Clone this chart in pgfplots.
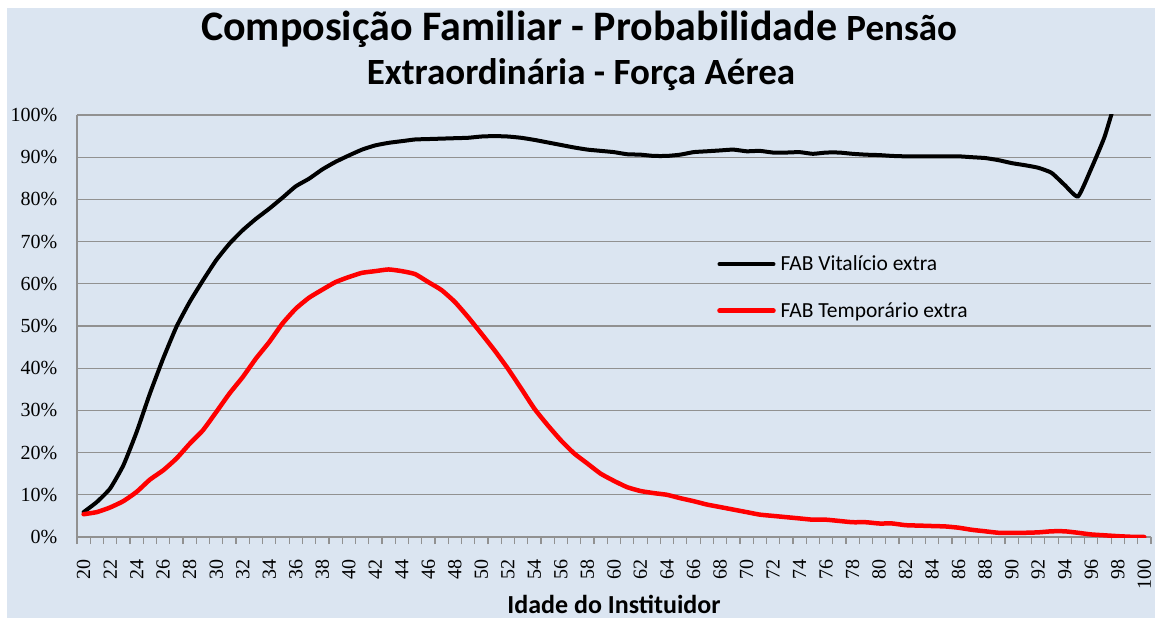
\documentclass[border=0pt]{standalone}
\usepackage{fontspec}
\setmainfont{Carlito}
\newfontfamily\tnr{Liberation Serif}
\usepackage{pgfplots}
\pgfplotsset{compat=1.18}
\usepackage{pgfplotstable}

\definecolor{bgblue}{RGB}{219,229,241}
\definecolor{gridgray}{RGB}{145,145,145}

% idade, vitalicio (%), temporario (%)
\pgfplotstableread{
age vit temp
20 5.9 5.4
21 8.3 5.9
22 11.5 7.0
23 17.0 8.5
24 24.9 10.7
25 34.0 13.6
26 42.3 15.8
27 49.8 18.6
28 55.7 22.1
29 60.8 25.3
30 65.6 29.6
31 69.5 34.0
32 72.7 37.9
33 75.4 42.3
34 77.8 46.2
35 80.4 50.6
36 83.1 54.1
37 84.9 56.7
38 87.1 58.6
39 88.9 60.4
40 90.4 61.6
41 91.8 62.6
42 92.8 63.0
43 93.4 63.4
44 93.8 63.0
45 94.2 62.3
46 94.3 60.4
47 94.4 58.5
48 94.5 55.7
49 94.6 52.1
50 94.9 48.2
51 95.0 44.2
52 94.9 39.9
53 94.6 35.2
54 94.1 30.4
55 93.5 26.5
56 92.9 22.9
57 92.3 19.8
58 91.8 17.4
59 91.5 15.0
60 91.2 13.3
61 90.7 11.8
62 90.6 10.9
63 90.3 10.4
64 90.3 10.0
65 90.6 9.2
66 91.2 8.5
67 91.4 7.7
68 91.6 7.1
69 91.8 6.5
70 91.4 5.9
71 91.5 5.3
72 91.1 5.0
73 91.1 4.7
74 91.2 4.4
75 90.8 4.1
76 91.1 4.1
77 91.1 3.8
78 90.8 3.5
79 90.6 3.5
80 90.5 3.2
81 90.3 3.2
82 90.2 2.8
83 90.2 2.7
84 90.2 2.6
85 90.2 2.5
86 90.2 2.2
87 90.0 1.7
88 89.8 1.35
89 89.3 1.0
90 88.6 1.0
91 88.1 1.0
92 87.5 1.1
93 86.3 1.35
94 83.4 1.35
95 80.7 1.0
96 87.3 0.6
97 94.8 0.4
98 105 0.2
99 112 0.05
100 120 0
}\datatab

\begin{document}
\begin{tikzpicture}[x=1pt,y=1pt]
\useasboundingbox (-77,-81) rectangle (1078,537);
\fill[white] (-77,-81) rectangle (1078,537);
\fill[bgblue] (-70,-81) rectangle (1078,529);

\node[font=\bfseries\fontsize{42}{48}\selectfont, anchor=base] at (502,496)
  {Composição Familiar - Probabilidade {\fontsize{37}{42}\selectfont Pensão}};
\node[font=\bfseries\fontsize{37}{42}\selectfont, anchor=base] at (504,452)
  {Extraordinária - Força Aérea};

\begin{axis}[
  at={(0,0)}, anchor=south west,
  width=1074pt, height=422pt, scale only axis,
  xmin=19.5, xmax=100.5, ymin=0, ymax=100,
  axis x line=bottom, axis y line=left,
  axis line style={-, gridgray, line width=1.2pt},
  xtick={20,22,...,100},
  minor xtick={19.5,20.5,...,100.5},
  ytick={0,10,...,100},
  tick align=outside,
  major x tick style={draw=none},
  minor x tick style={gridgray, line width=1.2pt},
  minor tick length=7pt,
  ytick style={draw=none},
  ymajorgrids,
  grid style={gridgray, line width=1.2pt},
  /pgf/number format/assume math mode=true,
  yticklabel={\pgfmathprintnumber{\tick}\%},
  yticklabel style={font=\tnr\fontsize{20}{20}\selectfont, anchor=east, xshift=-12pt},
  xticklabel style={font=\tnr\fontsize{20}{20}\selectfont, rotate=90, anchor=east},
  xticklabel shift=15pt,
  xlabel={Idade do Instituidor},
  xlabel style={font=\bfseries\fontsize{26}{30}\selectfont, at={(rel axis cs:0.5,0)}, anchor=base, yshift=-76pt},
  legend style={at={(rel axis cs:0.596,0.671)}, anchor=north west, draw=none, fill=none,
    font=\fontsize{21.5}{25}\selectfont, row sep=26pt, inner sep=0pt,
    cells={anchor=west}},
  legend image code/.code={\draw[#1] (0pt,0pt) -- (54pt,0pt); \path (57pt,0pt);},
  legend cell align=left,
]
\addplot[black, line width=4pt, smooth, tension=0.3, line cap=round] table[x=age, y=vit] {\datatab};
\addlegendentry{FAB Vitalício extra}
\addplot[red, line width=4.5pt, smooth, tension=0.3, line cap=round] table[x=age, y=temp] {\datatab};
\addlegendentry{FAB Temporário extra}
\end{axis}
\end{tikzpicture}
\end{document}
